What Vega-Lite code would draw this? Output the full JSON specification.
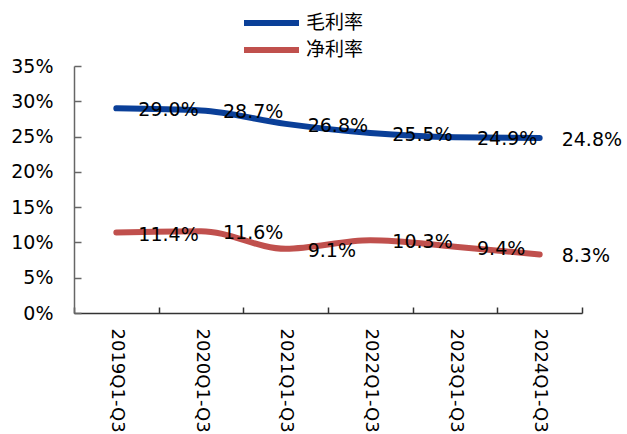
{
  "$schema": "https://vega.github.io/schema/vega-lite/v6.json",
  "width": 508,
  "height": 247,
  "autosize": "none",
  "padding": {"left": 74, "top": 66, "right": 45, "bottom": 121},
  "background": "white",
  "config": {
    "view": {"stroke": null},
    "font": "DejaVu Sans"
  },
  "data": {
    "values": [
      {"period": "2019Q1-Q3", "series": "毛利率", "value": 0.290},
      {"period": "2020Q1-Q3", "series": "毛利率", "value": 0.287},
      {"period": "2021Q1-Q3", "series": "毛利率", "value": 0.268},
      {"period": "2022Q1-Q3", "series": "毛利率", "value": 0.255},
      {"period": "2023Q1-Q3", "series": "毛利率", "value": 0.249},
      {"period": "2024Q1-Q3", "series": "毛利率", "value": 0.248},
      {"period": "2019Q1-Q3", "series": "净利率", "value": 0.114},
      {"period": "2020Q1-Q3", "series": "净利率", "value": 0.116},
      {"period": "2021Q1-Q3", "series": "净利率", "value": 0.091},
      {"period": "2022Q1-Q3", "series": "净利率", "value": 0.103},
      {"period": "2023Q1-Q3", "series": "净利率", "value": 0.094},
      {"period": "2024Q1-Q3", "series": "净利率", "value": 0.083}
    ]
  },
  "encoding": {
    "x": {
      "field": "period",
      "type": "ordinal",
      "scale": {"type": "band", "paddingInner": 0, "paddingOuter": 0},
      "axis": {
        "title": null,
        "tickBand": "extent",
        "labelAngle": 90,
        "labelFont": "DejaVu Sans",
        "labelFontSize": 18,
        "labelColor": "#000000",
        "labelPadding": 21,
        "tickSize": -6,
        "tickColor": "#333333",
        "domainColor": "#333333",
        "domainWidth": 1.5,
        "tickWidth": 1.5,
        "grid": false
      }
    },
    "y": {
      "field": "value",
      "type": "quantitative",
      "scale": {"domain": [0, 0.35], "nice": false},
      "axis": {
        "title": null,
        "format": ".0%",
        "values": [0, 0.05, 0.1, 0.15, 0.2, 0.25, 0.3, 0.35],
        "labelFont": "DejaVu Sans",
        "labelFontSize": 19,
        "labelColor": "#000000",
        "labelPadding": 28,
        "tickSize": -7,
        "tickColor": "#666666",
        "domainColor": "#666666",
        "domainWidth": 1.5,
        "tickWidth": 1.5,
        "grid": false
      }
    }
  },
  "layer": [
    {
      "mark": {"type": "line", "interpolate": "monotone", "strokeWidth": 6, "strokeCap": "round"},
      "encoding": {
        "color": {
          "field": "series",
          "type": "nominal",
          "scale": {"domain": ["毛利率", "净利率"], "range": ["#0A3F98", "#C0504D"]},
          "legend": {
            "title": null,
            "orient": "none",
            "legendX": 167,
            "legendY": -54,
            "direction": "vertical",
            "symbolType": "stroke",
            "symbolSize": 3025,
            "symbolStrokeWidth": 6,
            "clipHeight": 22,
            "labelFont": "Noto Sans CJK SC",
            "labelFontSize": 19,
            "labelColor": "#000000",
            "labelOffset": 4,
            "rowPadding": 5,
            "padding": 0
          }
        }
      }
    },
    {
      "mark": {"type": "text", "align": "left", "baseline": "middle", "dx": 22, "dy": 2, "fontSize": 19, "font": "DejaVu Sans", "color": "#000000"},
      "encoding": {
        "text": {"field": "value", "type": "quantitative", "format": ".1%"}
      }
    }
  ]
}
